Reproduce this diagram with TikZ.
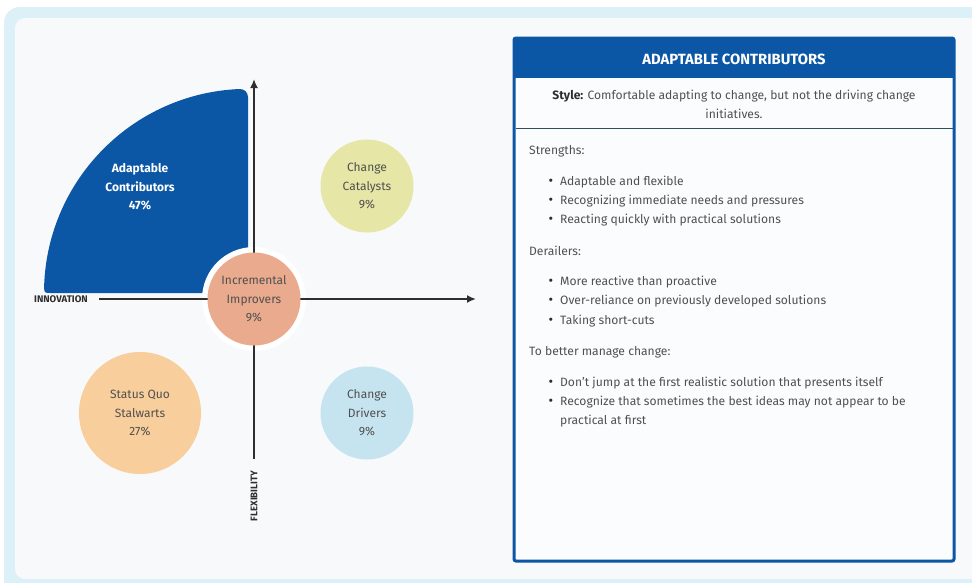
\documentclass[tikz,border=0pt]{standalone}
\usepackage{fontspec}
\usetikzlibrary{arrows.meta}
\setmainfont{Fira Sans}
\definecolor{frame}{HTML}{DCF0F7}
\definecolor{panel}{HTML}{F8F9FB}
\definecolor{brand}{HTML}{0B56A5}
\definecolor{axis}{HTML}{2E2E2E}
\definecolor{body}{HTML}{505050}
\definecolor{incr}{HTML}{E9AA8D}
\definecolor{catal}{HTML}{E6E6A6}
\definecolor{stalw}{HTML}{F8CE9C}
\definecolor{drive}{HTML}{C6E4EF}
\definecolor{rule}{HTML}{2F4F5F}
\begin{document}
\begin{tikzpicture}[x=1pt,y=-1pt,
  bubble/.style={circle,inner sep=0pt,text=body,align=center,
    font=\fontsize{12}{18.5}\selectfont},
  axislbl/.style={text=axis,font=\fontsize{9.6}{11}\selectfont\bfseries,inner sep=0pt},
  heading/.style={anchor=west,text=body,inner sep=0pt,font=\fontsize{12.1}{19}\selectfont},
  item/.style={anchor=west,text=body,inner sep=0pt,font=\fontsize{12.1}{19}\selectfont},
  dot/.style={anchor=center,text=axis,inner sep=0pt,font=\fontsize{14}{14}\selectfont}]
\useasboundingbox (0,0) rectangle (972,582);
\fill[white] (0,0) rectangle (972,582);
% outer frame and inner panel
\fill[frame,rounded corners=16pt] (4,7) rectangle (1000,600);
\fill[panel,rounded corners=10pt] (15,18) rectangle (990,579);

% quadrant shape
\fill[brand] (248,293) -- (248,97) arc[start angle=0,end angle=-90,radius=8]
  arc[start angle=267.75,end angle=182,radius=204]
  .. controls (44.2,293) .. (51,293) -- cycle;
\node[text=white,align=center,font=\fontsize{12}{18.5}\selectfont\bfseries]
  (ac) at (140,187) {Adaptable\\Contributors\\47\%};

% ring that cuts the quadrant around the centre bubble
\fill[white] (254,299) circle[radius=52];

% axes
\coordinate (ytop) at (254,79);
\coordinate (ybot) at (254,459);
\coordinate (xl) at (99,299);
\coordinate (xr) at (476,299);
\draw[axis,line width=1.8pt,-{Latex[length=9pt,width=8pt]}] (ybot) -- (ytop);
\draw[axis,line width=1.8pt,-{Latex[length=9pt,width=8pt]}] (xl) -- (xr);
\node[axislbl,anchor=east] (innov) at (88,299.5) {INNOVATION};
\node[axislbl,rotate=90] (flex) at (254,496) {FLEXIBILITY};

% bubbles
\node[bubble,fill=incr,minimum size=93pt] (ii) at (254,299) {Incremental\\Improvers\\9\%};
\node[bubble,fill=catal,minimum size=93pt] (cc) at (367,186) {Change\\Catalysts\\9\%};
\node[bubble,fill=stalw,minimum size=122pt] (sq) at (140,413) {Status Quo\\Stalwarts\\27\%};
\node[bubble,fill=drive,minimum size=93pt] (cd) at (367,413) {Change\\Drivers\\9\%};

% detail card
\fill[white!50!panel] (514,38) rectangle (954,561);
\fill[brand] (514,38) rectangle (954,78);
\draw[brand,line width=3pt,rounded corners=2pt] (514,38) rectangle (954,561);
\node[text=white,font=\fontsize{14.8}{17}\selectfont\bfseries] (title) at (734,59.5)
  {ADAPTABLE CONTRIBUTORS};
\node[text=body,align=center,font=\fontsize{12.1}{19}\selectfont] (style) at (734,104)
  {\textbf{\color{axis}Style:} Comfortable adapting to change, but not the driving change\\initiatives.};
\draw[rule,line width=0.8pt] (515.5,128) -- (952.5,128);

\node[heading] (s) at (529,151) {Strengths:};
\node[dot] at (551,182) {\textbullet}; \node[item] (s1) at (560,182) {Adaptable and flexible};
\node[dot] at (551,201) {\textbullet}; \node[item] (s2) at (560,201) {Recognizing immediate needs and pressures};
\node[dot] at (551,220) {\textbullet}; \node[item] (s3) at (560,220) {Reacting quickly with practical solutions};

\node[heading] (d) at (529,251) {Derailers:};
\node[dot] at (551,282) {\textbullet}; \node[item] (d1) at (560,282) {More reactive than proactive};
\node[dot] at (551,301) {\textbullet}; \node[item] (d2) at (560,301) {Over-reliance on previously developed solutions};
\node[dot] at (551,321) {\textbullet}; \node[item] (d3) at (560,321) {Taking short-cuts};

\node[heading] (m) at (529,352) {To better manage change:};
\node[dot] at (551,383) {\textbullet}; \node[item] (m1) at (560,383) {Don’t jump at the first realistic solution that presents itself};
\node[dot] at (551,402) {\textbullet}; \node[item] (m2) at (560,402) {Recognize that sometimes the best ideas may not appear to be};
\node[item] (m3) at (560,421) {practical at first};
\end{tikzpicture}
\end{document}
